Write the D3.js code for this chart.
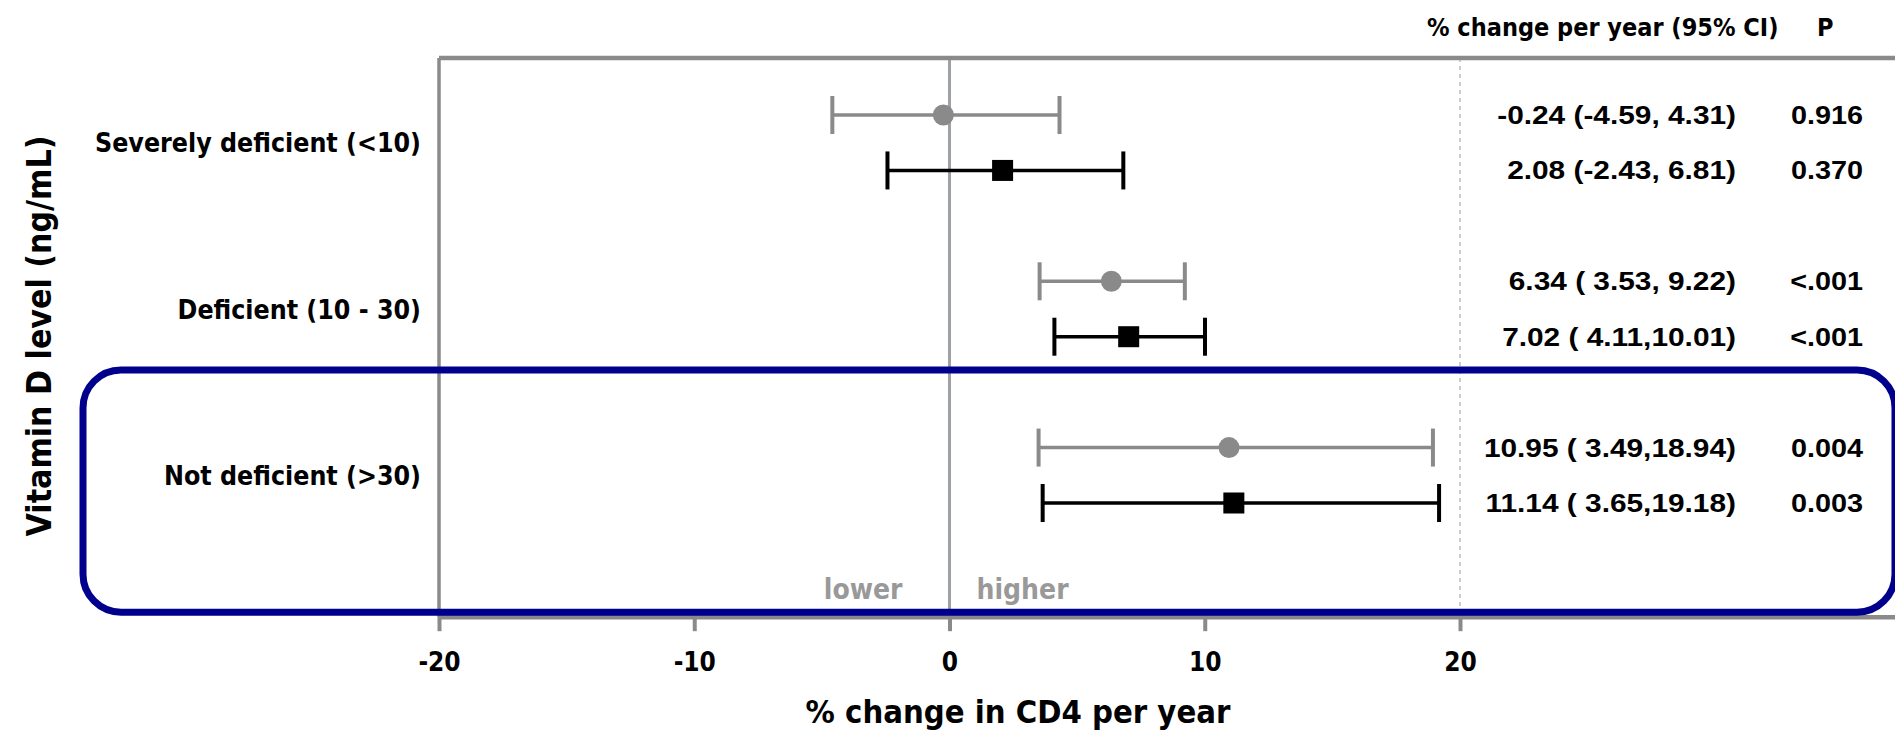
<!DOCTYPE html>
<html><head><meta charset="utf-8">
<script src="https://cdn.jsdelivr.net/npm/d3@7"></script>
<style>
body{margin:0;background:#fff}
svg{display:block}
.cond{font-family:'DejaVu Sans Condensed','DejaVu Sans',sans-serif;font-stretch:condensed;font-weight:bold}
.num{font-family:'Liberation Sans',Arial,sans-serif;font-weight:bold;white-space:pre}
</style>
</head><body>
<svg id="chart" width="1895" height="730"></svg>
<script>
// ---- data ----
const categories = ["Severely deficient (<10)", "Deficient (10 - 30)", "Not deficient (>30)"];
const estGrey  = [-0.24, 6.34, 10.95];
const lowGrey  = [-4.59, 3.53, 3.49];
const highGrey = [4.31, 9.22, 18.94];
const ciTextGrey = ["-0.24 (-4.59, 4.31)", "6.34 ( 3.53, 9.22)", "10.95 ( 3.49,18.94)"];
const pGrey = ["0.916", "<.001", "0.004"];
const estBlack  = [2.08, 7.02, 11.14];
const lowBlack  = [-2.43, 4.11, 3.65];
const highBlack = [6.81, 10.01, 19.18];
const ciTextBlack = ["2.08 (-2.43, 6.81)", "7.02 ( 4.11,10.01)", "11.14 ( 3.65,19.18)"];
const pBlack = ["0.370", "<.001", "0.003"];
const xTicks = [-20, -10, 0, 10, 20];
const headerText = "% change per year (95% CI)";
const headerP = "P";
const xTitle = "% change in CD4 per year";
const yTitle = "Vitamin D level (ng/mL)";
const dirLabels = ["lower", "higher"];

// ---- build rows ----
const rows = [];
categories.forEach((c, g) => {
  rows.push({g, s: 0, slot: g * 3, est: estGrey[g], lo: lowGrey[g], hi: highGrey[g], ci: ciTextGrey[g], p: pGrey[g]});
  rows.push({g, s: 1, slot: g * 3 + 1, est: estBlack[g], lo: lowBlack[g], hi: highBlack[g], ci: ciTextBlack[g], p: pBlack[g]});
});

const svg = d3.select("#chart");
const W = 1895;
const x = d3.scaleLinear().domain([-20, 20]).range([439, 1460]);
const y = d3.scaleLinear().domain([0, 7]).range([115, 503]);
const yTop = y(-1.03), yBot = y(9.06);
const frameCol = "#8a8a8a";
const greyCol = "#8a8a8a";
const colors = [greyCol, "#000"];

// reference lines
svg.append("line").attr("x1", x(20)).attr("x2", x(20)).attr("y1", yTop).attr("y2", yBot)
  .attr("stroke", "#cccccc").attr("stroke-width", 2).attr("stroke-dasharray", "4,4");
svg.append("line").attr("x1", x(0)).attr("x2", x(0)).attr("y1", yTop).attr("y2", yBot)
  .attr("stroke", "#9ea2a6").attr("stroke-width", 3);

// frame
svg.append("line").attr("x1", x(-20)).attr("x2", W).attr("y1", yTop).attr("y2", yTop)
  .attr("stroke", frameCol).attr("stroke-width", 4.5);
svg.append("line").attr("x1", x(-20)).attr("x2", x(-20)).attr("y1", yTop).attr("y2", yBot)
  .attr("stroke", frameCol).attr("stroke-width", 3.5);
svg.append("line").attr("x1", x(-20)).attr("x2", W).attr("y1", yBot).attr("y2", yBot)
  .attr("stroke", frameCol).attr("stroke-width", 4.5);

// x axis
const axis = d3.axisBottom(x).tickValues(xTicks).tickSize(14).tickPadding(21).tickFormat(d => String(d));
const ax = svg.append("g").attr("transform", `translate(0,${yBot})`).call(axis);
ax.select(".domain").remove();
ax.selectAll(".tick line").attr("stroke", frameCol).attr("stroke-width", 4);
ax.selectAll(".tick text").attr("class", "cond").attr("fill", "#000")
  .style("font-size", "26px").attr("dy", "0.71em");

// error bars
const bars = svg.append("g").selectAll("g").data(rows).join("g");
bars.append("line").attr("x1", d => x(d.lo)).attr("x2", d => x(d.hi))
  .attr("y1", d => y(d.slot)).attr("y2", d => y(d.slot))
  .attr("stroke", d => colors[d.s]).attr("stroke-width", 3.5);
bars.append("line").attr("x1", d => x(d.lo)).attr("x2", d => x(d.lo))
  .attr("y1", d => y(d.slot) - 19).attr("y2", d => y(d.slot) + 19)
  .attr("stroke", d => colors[d.s]).attr("stroke-width", 4);
bars.append("line").attr("x1", d => x(d.hi)).attr("x2", d => x(d.hi))
  .attr("y1", d => y(d.slot) - 19).attr("y2", d => y(d.slot) + 19)
  .attr("stroke", d => colors[d.s]).attr("stroke-width", 4);
bars.filter(d => d.s === 0).append("circle")
  .attr("cx", d => x(d.est)).attr("cy", d => y(d.slot)).attr("r", 10.5).attr("fill", greyCol);
bars.filter(d => d.s === 1).append("rect")
  .attr("x", d => x(d.est) - 10.5).attr("y", d => y(d.slot) - 10.5)
  .attr("width", 21).attr("height", 21).attr("fill", "#000");

// right columns
svg.append("g").selectAll("text").data(rows).join("text")
  .attr("class", "num").style("font-size", "25.5px").attr("text-anchor", "end")
  .attr("transform", d => `translate(1736,${y(d.slot) + 9}) scale(1.17,1)`)
  .text(d => d.ci);
svg.append("g").selectAll("text").data(rows).join("text")
  .attr("class", "num").style("font-size", "25.5px").attr("text-anchor", "end")
  .attr("transform", d => `translate(1863,${y(d.slot) + 9}) scale(1.13,1)`)
  .text(d => d.p);
svg.append("text").attr("class", "cond").style("font-size", "25px")
  .attr("x", 1427).attr("y", 36).text(headerText);
svg.append("text").attr("class", "cond").style("font-size", "25px")
  .attr("x", 1817).attr("y", 36).text(headerP);

// category labels
svg.append("g").selectAll("text").data(categories).join("text")
  .attr("class", "cond").style("font-size", "26.5px").attr("text-anchor", "end")
  .attr("x", 421).attr("y", (d, i) => y(i * 3 + 0.5) + 9.5).text(d => d);

// lower / higher
svg.append("text").attr("class", "cond").style("font-size", "28px").attr("fill", "#999")
  .attr("text-anchor", "end").attr("x", x(0) - 47).attr("y", 599).text(dirLabels[0]);
svg.append("text").attr("class", "cond").style("font-size", "28px").attr("fill", "#999")
  .attr("x", x(0) + 27).attr("y", 599).text(dirLabels[1]);

// titles
svg.append("text").attr("class", "cond").style("font-size", "32.5px").attr("text-anchor", "middle")
  .attr("x", 1018).attr("y", 723).text(xTitle);
svg.append("text").attr("class", "cond").style("font-size", "33.5px").attr("text-anchor", "middle")
  .attr("transform", `translate(51,${(y(0) + y(7)) / 2 + 27}) rotate(-90)`).text(yTitle);

// highlight box around "Not deficient"
svg.append("rect").attr("x", 83).attr("y", y(4.6))
  .attr("width", 1895 - 83).attr("height", y(8.97) - y(4.6))
  .attr("rx", 38).attr("ry", 38).attr("fill", "none")
  .attr("stroke", "#00008c").attr("stroke-width", 7);
</script>
</body></html>
